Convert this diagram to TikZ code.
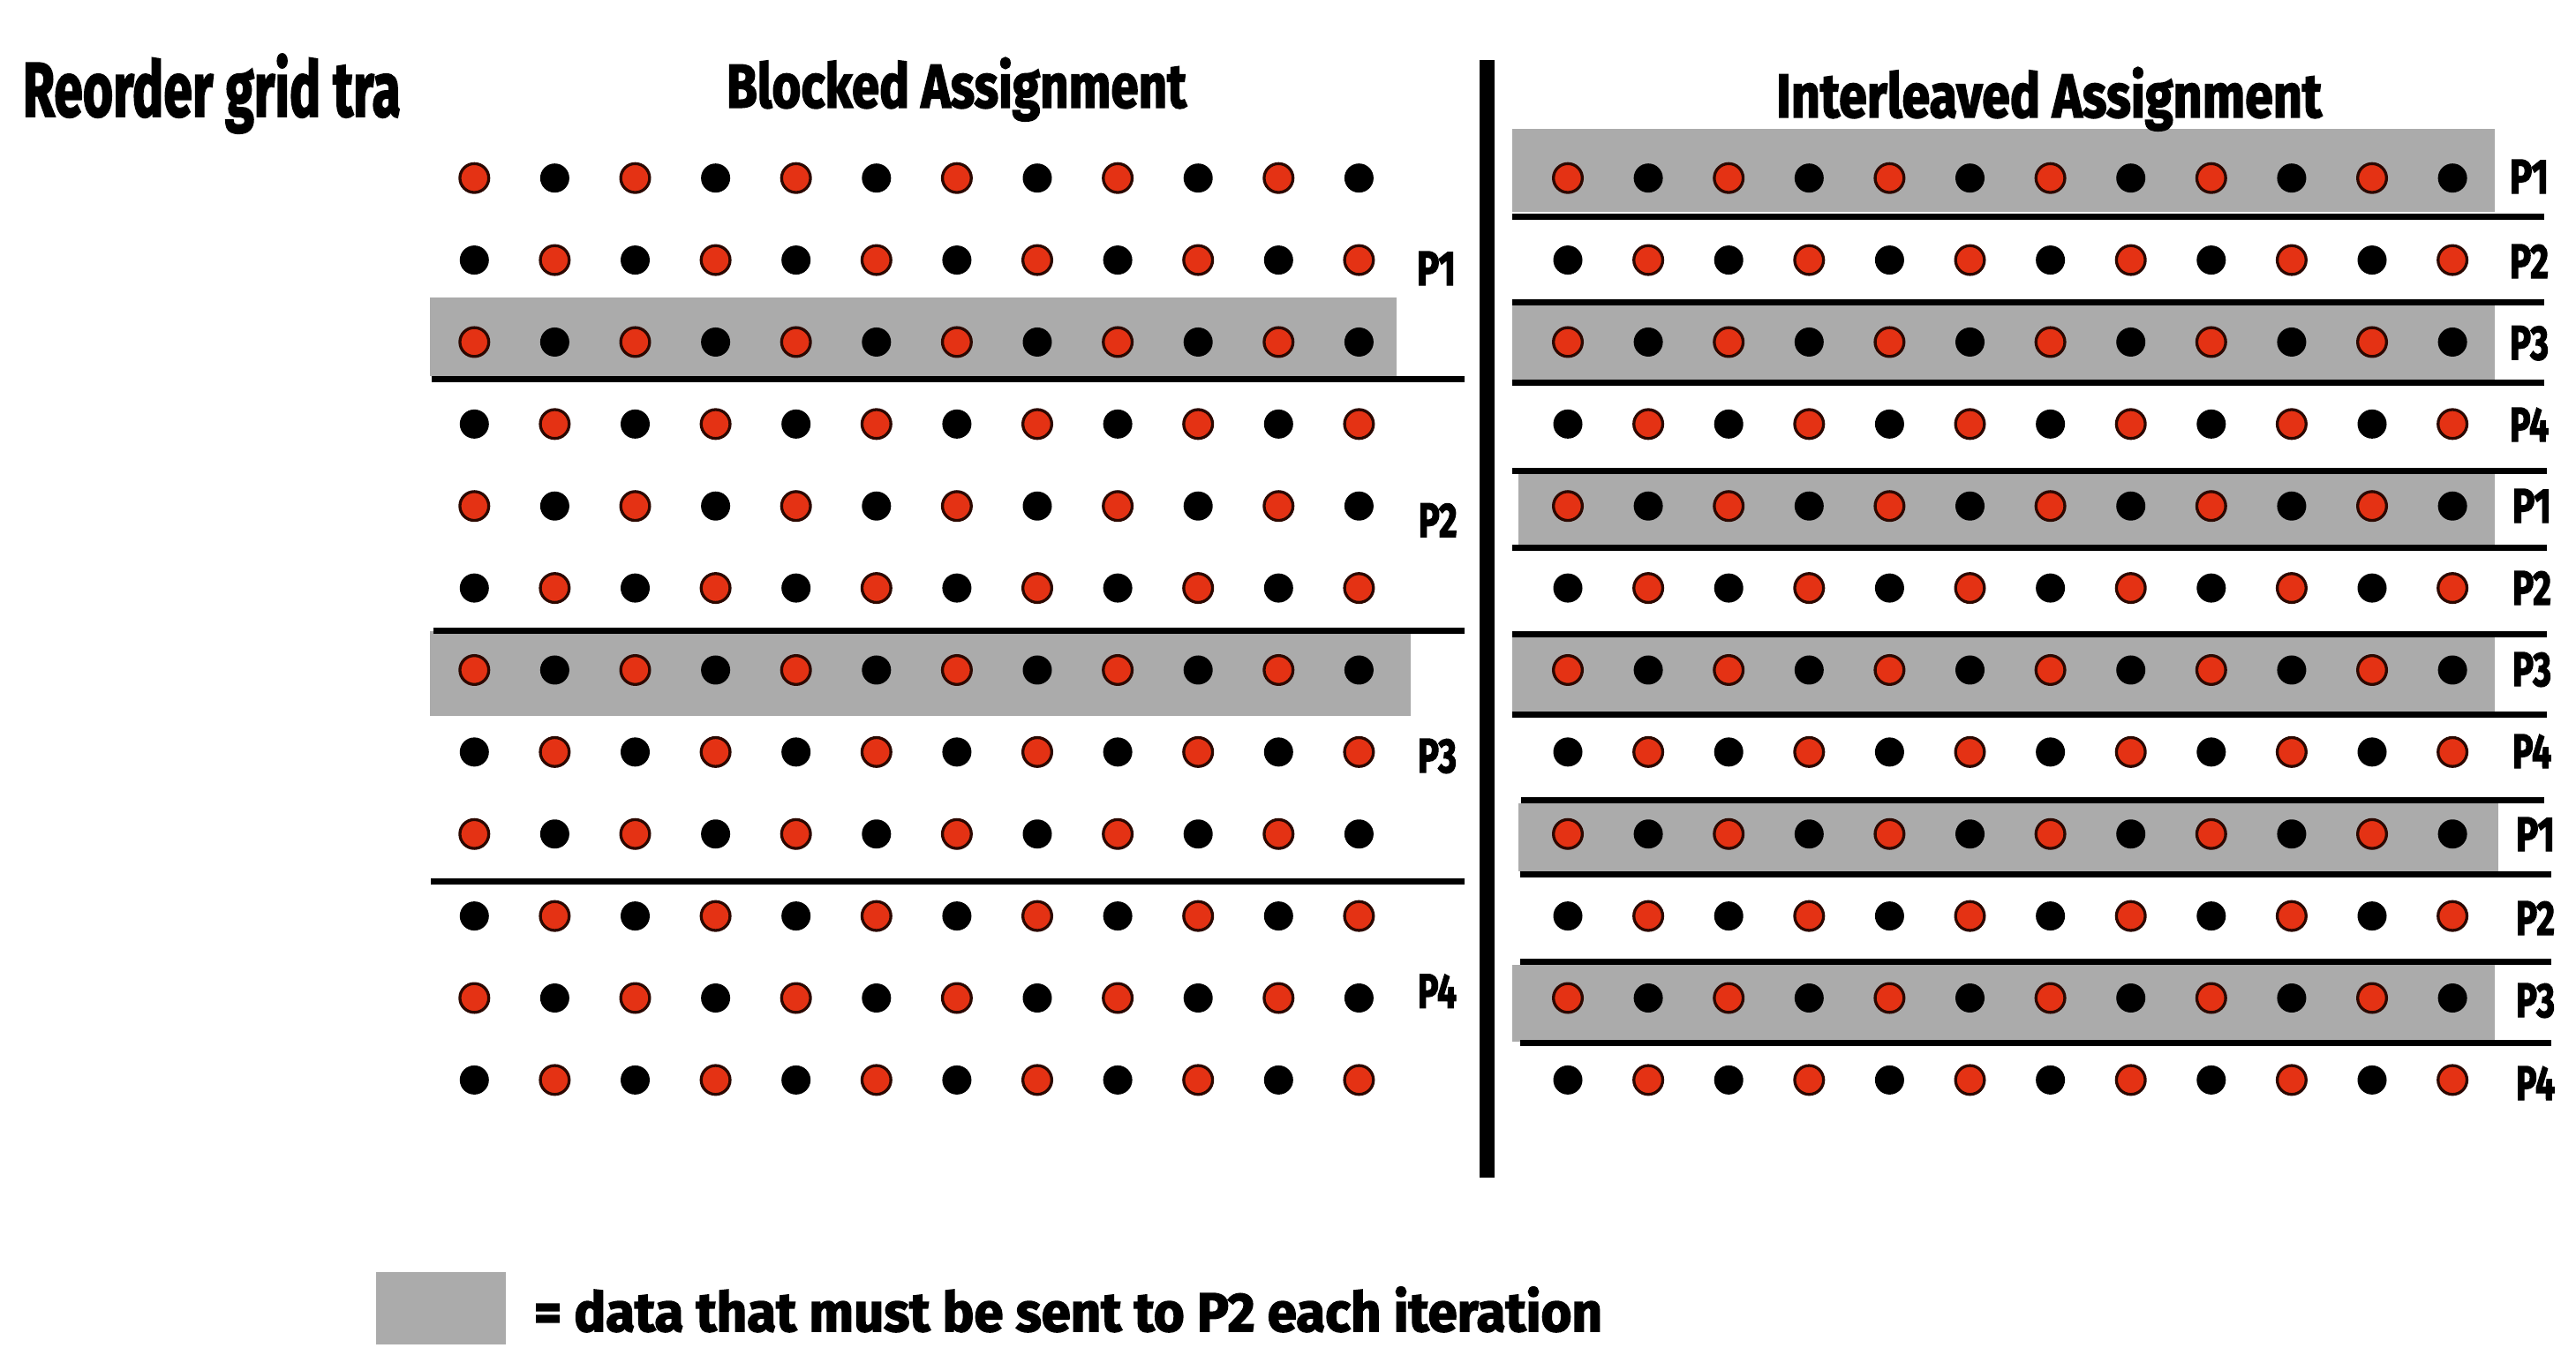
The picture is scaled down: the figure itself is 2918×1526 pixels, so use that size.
\documentclass[tikz,border=0pt]{standalone}
\usepackage{fontspec}
\setmainfont{Fira Sans}[BoldFeatures={FakeBold=2.5}]
\usepackage{graphicx}
\definecolor{dotred}{HTML}{E43214}
\definecolor{dotedge}{HTML}{2B0800}
\definecolor{shade}{HTML}{ABABAB}
\tikzset{
  rowshade/.style={fill=shade},
  sepline/.style={line width=7pt},
  divider/.style={line width=16.7pt},
  reddot/.style={fill=dotred, draw=dotedge, line width=3.3pt},
  blackdot/.style={fill=black},
  lbl/.style={anchor=base west, inner sep=0pt, outer sep=0pt},
}
\newcommand{\plab}[1]{\resizebox{44pt}{38pt}{\bfseries #1}}
\newcommand{\fitw}[3]{\resizebox{#1}{\height}{\fontsize{#2}{#2}\selectfont\bfseries #3}}
\begin{document}
\begin{tikzpicture}[x=1pt,y=-1pt]
\path[use as bounding box, fill=white] (0,0) rectangle (2918,1526);
% shaded rows, blocked
\fill[rowshade] (486.7,336.7) rectangle (1581.7,426);
\fill[rowshade] (486.7,715) rectangle (1597.7,810.7);
% shaded rows, interleaved
\fill[rowshade] (1713.3,146) rectangle (2826.3,240);
\fill[rowshade] (1713.3,345.7) rectangle (2826.3,430);
\fill[rowshade] (1720,536.7) rectangle (2826.3,616.7);
\fill[rowshade] (1713.3,721.7) rectangle (2826.3,806.7);
\fill[rowshade] (1720,910) rectangle (2829.7,986.7);
\fill[rowshade] (1713.3,1092.7) rectangle (2826.3,1180);
% dots
\foreach \r in {0,...,11} {
  \foreach \c in {0,...,11} {
    \pgfmathsetmacro{\yy}{201.7+92.88*\r}
    \pgfmathsetmacro{\xl}{537.3+91.1*\c}
    \pgfmathsetmacro{\xr}{1776+91.1*\c}
    \pgfmathtruncatemacro{\parity}{mod(\r+\c,2)}
    \ifnum\parity=0
      \filldraw[reddot] (\xl,\yy) circle[radius=16.35pt];
      \filldraw[reddot] (\xr,\yy) circle[radius=16.35pt];
    \else
      \fill[blackdot] (\xl,\yy) circle[radius=16.5pt];
      \fill[blackdot] (\xr,\yy) circle[radius=16.5pt];
    \fi
  }
}
% separator lines, blocked
\draw[sepline] (488.7,429.5) -- (1659.3,429.5);
\draw[sepline] (490.7,714) -- (1659.3,714);
\draw[sepline] (488.3,998) -- (1659.3,998);
% separator lines, interleaved
\draw[sepline] (1713.3,245) -- (2882.3,245);
\draw[sepline] (1713.3,342.5) -- (2882.3,342.5);
\draw[sepline] (1713.3,433.5) -- (2882.3,433.5);
\draw[sepline] (1713.3,533.3) -- (2885,533.3);
\draw[sepline] (1713.3,620) -- (2885,620);
\draw[sepline] (1713.3,718) -- (2885,718);
\draw[sepline] (1713.3,809.7) -- (2885,809.7);
\draw[sepline] (1723,906.7) -- (2882,906.7);
\draw[sepline] (1721.7,990) -- (2889.7,990);
\draw[sepline] (1721.7,1089.3) -- (2889.7,1089.3);
\draw[sepline] (1721.7,1181) -- (2889.7,1181);
% divider
\draw[divider] (1684.5,68.3) -- (1684.5,1334);
% titles
\node[lbl] (title) at (25.8,131.7) {\fitw{428pt}{87}{Reorder grid tra}};
\node[lbl] (blocked) at (823,121.7) {\fitw{521pt}{69.7}{Blocked Assignment}};
\node[lbl] (inter) at (2012,132.7) {\fitw{618pt}{69.7}{Interleaved Assignment}};
% blocked labels
\node[lbl] (bp1) at (1605,323) {\plab{P1}};
\node[lbl] (bp2) at (1606.7,608.3) {\plab{P2}};
\node[lbl] (bp3) at (1606,875) {\plab{P3}};
\node[lbl] (bp4) at (1606,1141.7) {\plab{P4}};
% interleaved labels
\node[lbl] (ip1a) at (2843,219) {\plab{P1}};
\node[lbl] (ip2a) at (2843,315) {\plab{P2}};
\node[lbl] (ip3a) at (2843,407.3) {\plab{P3}};
\node[lbl] (ip4a) at (2843,500) {\plab{P4}};
\node[lbl] (ip1b) at (2846,592) {\plab{P1}};
\node[lbl] (ip2b) at (2846,685) {\plab{P2}};
\node[lbl] (ip3b) at (2846,777) {\plab{P3}};
\node[lbl] (ip4b) at (2846,870) {\plab{P4}};
\node[lbl] (ip1c) at (2850,964) {\plab{P1}};
\node[lbl] (ip2c) at (2850,1059) {\plab{P2}};
\node[lbl] (ip3c) at (2850,1152) {\plab{P3}};
\node[lbl] (ip4c) at (2850,1246) {\plab{P4}};
% legend
\fill[rowshade] (426,1441) rectangle (573,1522.7);
\node[lbl] (legend) at (605,1508) {\fitw{1210pt}{62}{= data that must be sent to P2 each iteration}};
\end{tikzpicture}
\end{document}
